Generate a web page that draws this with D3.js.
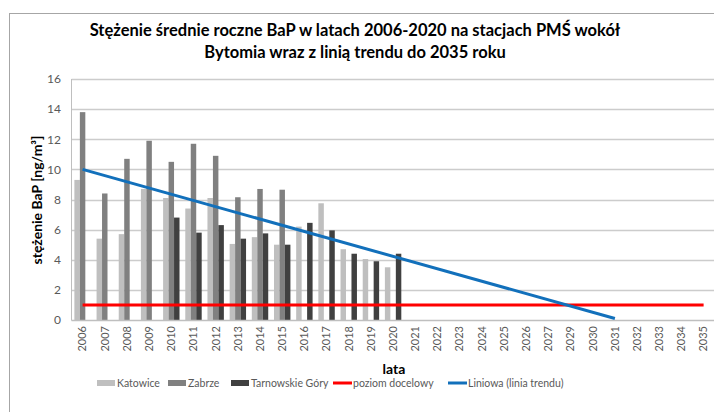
<!DOCTYPE html>
<html>
<head>
<meta charset="utf-8">
<script src="https://cdn.jsdelivr.net/npm/d3@7"></script>
<style>
  html, body { margin: 0; padding: 0; background: #fff; }
  svg { display: block; font-family: Lato, "Open Sans", sans-serif; }
</style>
</head>
<body>
<svg id="chart" width="714" height="412"></svg>
<script>
// Category axis: years (2028 is absent from the axis)
const years = ["2006","2007","2008","2009","2010","2011","2012","2013","2014","2015",
  "2016","2017","2018","2019","2020","2021","2022","2023","2024","2025","2026","2027",
  "2029","2030","2031","2032","2033","2034","2035"];

// Annual mean BaP concentration [ng/m3] per station
const katowice = [9.3, 5.4, 5.7, 8.7, 8.1, 7.4, 8.1, 5.05, 5.5, 5.0, 6.2, 7.75, 4.7, 4.05, 3.5];
const zabrze   = [13.8, 8.4, 10.7, 11.9, 10.5, 11.7, 10.9, 8.15, 8.7, 8.65, null, null, null, null, null];
const tarnowskieGory = [null, null, null, null, 6.8, 5.8, 6.3, 5.4, 5.75, 5.0, 6.45, 5.95, 4.4, 3.9, 4.4];

const seriesNames = ["Katowice", "Zabrze", "Tarnowskie Góry"];
const seriesColors = ["#bfbfbf", "#808080", "#404040"];

// Target level and linear trend
const targetYears = ["2006", "2035"];
const targetLevel = [1, 1];
const trendYears = ["2006", "2031"];
const trendValues = [10.0, 0.1];

const yTicks = [0, 2, 4, 6, 8, 10, 12, 14, 16];

const svg = d3.select("#chart");
const plot = { left: 71.5, right: 714.7, top: 79, bottom: 320 };

const x = d3.scaleBand().domain(years).range([plot.left, plot.right]).paddingInner(0).paddingOuter(0);
const bw = x.bandwidth();
const gap = bw * 0.13;
const xInner = d3.scaleBand().domain(seriesNames).range([gap, bw - gap]);
const y = d3.scaleLinear().domain([0, 16]).range([plot.bottom, plot.top]);

// Chart frame
svg.append("rect").attr("x", 9.5).attr("y", 13.5).attr("width", 720).attr("height", 420)
  .attr("fill", "none").attr("stroke", "#a6a6a6").attr("stroke-width", 1);

// Gridlines
svg.append("g").selectAll("line").data(yTicks.filter(d => d > 0)).join("line")
  .attr("x1", plot.left).attr("x2", plot.right)
  .attr("y1", d => Math.round(y(d)) + 0.5).attr("y2", d => Math.round(y(d)) + 0.5)
  .attr("stroke", "#cccccc").attr("stroke-width", 1.3);

// Y axis labels
const yAxis = d3.axisLeft(y).tickValues(yTicks).tickSize(0).tickPadding(0);
const gy = svg.append("g").attr("transform", `translate(61,0)`).call(yAxis);
gy.select(".domain").remove();
gy.selectAll("text").attr("font-family", "Lato, sans-serif").attr("font-size", 12).attr("fill", "#595959");

// Bars
const seriesData = [katowice, zabrze, tarnowskieGory];
seriesNames.forEach((name, si) => {
  const vals = seriesData[si];
  svg.append("g").selectAll("rect")
    .data(vals.map((v, i) => ({ year: years[i], v })).filter(d => d.v != null))
    .join("rect")
    .attr("x", d => x(d.year) + xInner(name))
    .attr("width", xInner.bandwidth())
    .attr("y", d => y(d.v))
    .attr("height", d => y(0) - y(d.v))
    .attr("fill", seriesColors[si]);
});

// Axis lines
svg.append("line").attr("x1", plot.left).attr("x2", plot.left)
  .attr("y1", plot.top).attr("y2", plot.bottom + 0.5)
  .attr("stroke", "#bfbfbf").attr("stroke-width", 1);
svg.append("line").attr("x1", plot.left).attr("x2", plot.right)
  .attr("y1", plot.bottom + 0.5).attr("y2", plot.bottom + 0.5)
  .attr("stroke", "#bfbfbf").attr("stroke-width", 1.3);

// X axis labels (rotated)
const xAxis = d3.axisBottom(x).tickSize(0).tickPadding(0);
const gx = svg.append("g").attr("transform", `translate(0,${plot.bottom})`).call(xAxis);
gx.select(".domain").remove();
gx.selectAll("text")
  .attr("font-family", "Lato, sans-serif").attr("font-size", 11).attr("fill", "#595959")
  .attr("transform", "rotate(-90)")
  .attr("text-anchor", "end")
  .attr("x", -6).attr("y", 0).attr("dy", "0.35em");

const line = d3.line().x(d => x(d[0]) + bw / 2).y(d => y(d[1]));

// Target level line
svg.append("path").datum(targetYears.map((yr, i) => [yr, targetLevel[i]]))
  .attr("d", line).attr("fill", "none").attr("stroke", "#ff0000").attr("stroke-width", 3);

// Trend line
svg.append("path").datum(trendYears.map((yr, i) => [yr, trendValues[i]]))
  .attr("d", line).attr("fill", "none").attr("stroke", "#1270bb").attr("stroke-width", 3);

// Title
const title = svg.append("text").attr("text-anchor", "middle")
  .attr("font-family", "Lato, sans-serif").attr("font-weight", "bold").attr("font-size", 16.5).attr("fill", "#000");
title.append("tspan").attr("x", 355).attr("y", 36).text("Stężenie średnie roczne BaP w latach 2006-2020 na stacjach PMŚ wokół");
title.append("tspan").attr("x", 355).attr("y", 58).text("Bytomia wraz z linią trendu do 2035 roku");

// Axis titles
svg.append("text").attr("transform", "translate(42,200) rotate(-90)")
  .attr("text-anchor", "middle").attr("font-family", "Lato, sans-serif")
  .attr("font-weight", "bold").attr("font-size", 14).attr("fill", "#000")
  .text("stężenie BaP [ng/m³]");
svg.append("text").attr("x", 394).attr("y", 374)
  .attr("text-anchor", "middle").attr("font-family", "Lato, sans-serif")
  .attr("font-weight", "bold").attr("font-size", 14).attr("fill", "#000")
  .text("lata");

// Legend
const legendItems = [
  { name: "Katowice", type: "rect", color: seriesColors[0], x: 97 },
  { name: "Zabrze", type: "rect", color: seriesColors[1], x: 168 },
  { name: "Tarnowskie Góry", type: "rect", color: seriesColors[2], x: 231 },
  { name: "poziom docelowy", type: "line", color: "#ff0000", x: 333 },
  { name: "Liniowa (linia trendu)", type: "line", color: "#1270bb", x: 448 }
];
const lg = svg.append("g");
const ly = 383;
legendItems.forEach(it => {
  if (it.type === "rect") {
    lg.append("rect").attr("x", it.x).attr("y", ly - 3).attr("width", 18).attr("height", 6).attr("fill", it.color);
  } else {
    lg.append("line").attr("x1", it.x).attr("x2", it.x + 19).attr("y1", ly).attr("y2", ly)
      .attr("stroke", it.color).attr("stroke-width", 3);
  }
  lg.append("text").attr("x", it.x + 20).attr("y", ly).attr("dy", "0.35em")
    .attr("font-family", "Lato, sans-serif").attr("font-size", 10.5).attr("fill", "#595959")
    .text(it.name);
});
</script>
</body>
</html>
